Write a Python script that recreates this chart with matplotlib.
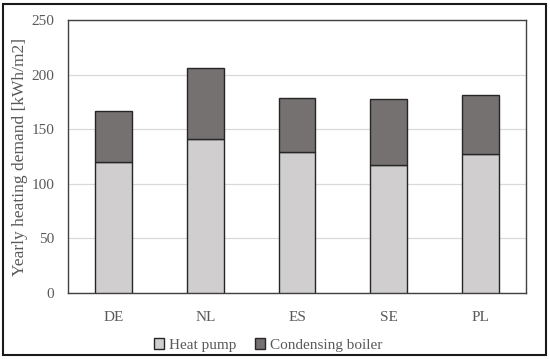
import matplotlib.pyplot as plt
import matplotlib.patches as patches
import numpy as np

# data
countries = ['DE', 'NL', 'ES', 'SE', 'PL']
heat_pump = [120, 141, 129, 117, 127]
condensing_boiler = [47, 65, 50, 61, 54]

plt.rcParams['font.family'] = ['Liberation Serif', 'DejaVu Serif']
text_color = '#595959'

fig = plt.figure(figsize=(5.5, 3.59), dpi=100)
ax = fig.add_axes([68 / 550, 66 / 359, 458 / 550, 273 / 359])

x = np.arange(len(countries))
ax.bar(x, heat_pump, width=0.4, color='#d0cece', edgecolor='#262626',
       linewidth=1.0, label='Heat pump', zorder=3)
ax.bar(x, condensing_boiler, width=0.4, bottom=heat_pump, color='#767171',
       edgecolor='#262626', linewidth=1.0, label='Condensing boiler', zorder=3)

ax.set_xlim(-0.5, len(countries) - 0.5)
ax.set_ylim(0, 250)
ax.set_yticks(range(0, 251, 50))
ax.set_xticks(x)
ax.set_xticklabels(countries)
ax.tick_params(axis='both', length=0, labelsize=11, colors=text_color)
ax.tick_params(axis='x', pad=13)
ax.tick_params(axis='y', pad=10)
ax.grid(axis='y', color='#d9d9d9', linewidth=0.9, zorder=0)
for s in ax.spines.values():
    s.set_color('#404040')
    s.set_linewidth(1.0)

ax.set_ylabel('Yearly heating demand [kWh/m2]', fontsize=12.5, color=text_color)
ax.yaxis.set_label_coords(-40 / 458, 0.5)

leg = fig.legend(loc='center', bbox_to_anchor=(268 / 550, 14 / 359), ncol=2,
                 frameon=False, fontsize=11, handlelength=0.7, handleheight=0.7,
                 handletextpad=0.3, columnspacing=1.2, labelcolor=text_color)

# outer frame around the whole chart
frame = patches.Rectangle((3 / 550, 4 / 359), 543 / 550, 351 / 359,
                          transform=fig.transFigure, fill=False,
                          edgecolor='#1a1a1a', linewidth=1.5)
fig.patches.append(frame)

fig.savefig('out.png', dpi=100)
